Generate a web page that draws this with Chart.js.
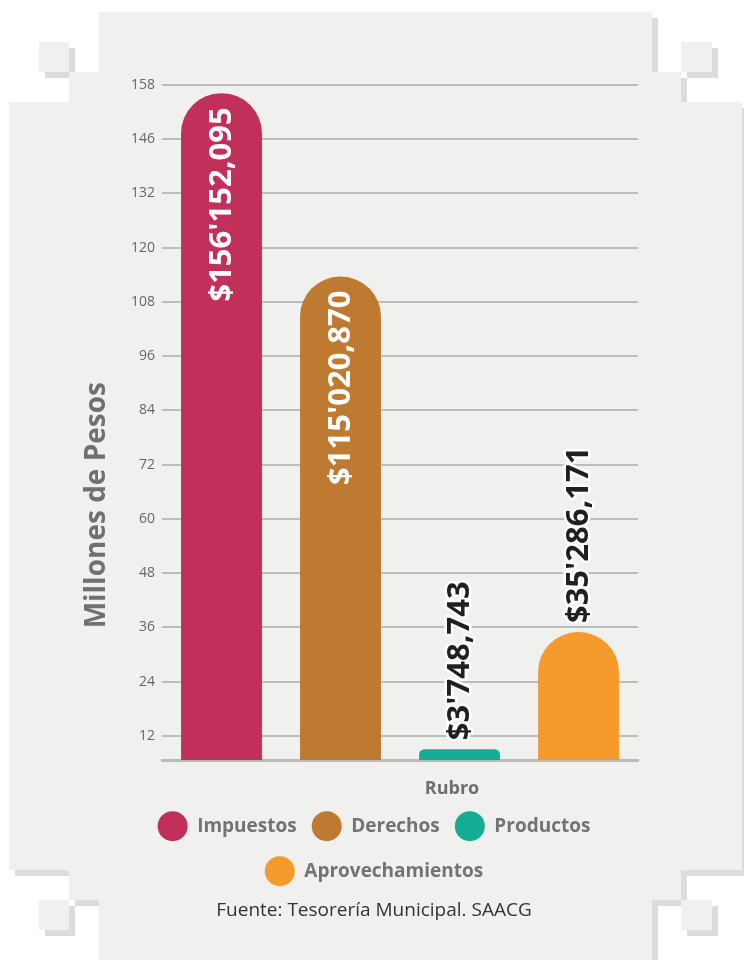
<!DOCTYPE html>
<html>
<head>
<meta charset="utf-8">
<script src="https://cdn.jsdelivr.net/npm/chart.js@4.4.1/dist/chart.umd.min.js"></script>
<style>
  html, body { margin: 0; padding: 0; background: #fff; }
  #wrap { position: relative; width: 744px; height: 960px; overflow: hidden; }
  .sh, .pn { position: absolute; }
  .sh { background: #dcdcdc; }
  .pn { background: #f0f0ee; }
  canvas { position: absolute; left: 0; top: 0; }
</style>
</head>
<body>
<div id="wrap">
  <canvas id="myChart" width="744" height="960"></canvas>
</div>
<script>
var categories = ['Impuestos', 'Derechos', 'Productos', 'Aprovechamientos'];
var amounts = [156152095, 115020870, 3748743, 35286171]; // pesos
var colors = ['#c1305a', '#bf7a31', '#14ad93', '#f59b2e'];
var tickLabels = ['12', '24', '36', '48', '60', '72', '84', '96', '108', '120', '132', '146', '158'];
var yMin = 6.55; // where the axis line sits, in millions

// the grey card behind the chart (blocks + their shadow)
var blocks = [[99, 12, 553, 960], [69, 72, 612, 828], [9, 102, 733, 768],
              [39, 42, 30, 30], [681, 42, 31, 30], [39, 900, 30, 30], [681, 900, 31, 30]];
var wrap = document.getElementById('wrap');
var cv = document.getElementById('myChart');
['sh', 'pn'].forEach(function (cls) {
    blocks.forEach(function (b) {
        var d = document.createElement('div');
        var off = cls === 'sh' ? 6 : 0;
        d.className = cls;
        d.style.left = (b[0] + off) + 'px';
        d.style.top = (b[1] + off) + 'px';
        d.style.width = b[2] + 'px';
        d.style.height = b[3] + 'px';
        wrap.insertBefore(d, cv);
    });
});

function money(n) {
    var s = String(n), parts = [];
    while (s.length > 3) { parts.unshift(s.slice(-3)); s = s.slice(0, -3); }
    parts.unshift(s);
    // millions with an apostrophe, thousands with a comma
    return '$' + parts[0] + "'" + parts.slice(1).join(',');
}

var tFirst = +tickLabels[0];
var tLast = +tickLabels[tickLabels.length - 1];
var tStep = (tLast - tFirst) / (tickLabels.length - 1);

var barLabels = {
    id: 'barLabels',
    afterDatasetsDraw: function (chart) {
        var ctx = chart.ctx;
        ctx.save();
        ctx.font = '700 31px "Open Sans"';
        ctx.textBaseline = 'middle';
        categories.forEach(function (c, i) {
            var bar = chart.getDatasetMeta(i).data[i];
            var txt = money(amounts[i]);
            var w = ctx.measureText(txt).width;
            var inside = (bar.base - bar.y) > w + 40;
            ctx.save();
            ctx.translate(bar.x, inside ? bar.y + 14 : bar.y - 9);
            ctx.rotate(-Math.PI / 2);
            if (inside) {
                ctx.textAlign = 'right';
                ctx.fillStyle = '#fff';
                ctx.fillText(txt, 0, 1);
            } else {
                ctx.textAlign = 'left';
                ctx.lineWidth = 5;
                ctx.lineJoin = 'round';
                ctx.strokeStyle = '#fff';
                ctx.strokeText(txt, 0, 1);
                ctx.fillStyle = '#231f20';
                ctx.fillText(txt, 0, 1);
            }
            ctx.restore();
        });
        ctx.restore();
    }
};

// axis titles sit off-centre in the original, so they are drawn here
var axisTitles = {
    id: 'axisTitles',
    afterDraw: function (chart) {
        var ctx = chart.ctx, a = chart.chartArea;
        ctx.save();
        ctx.textAlign = 'center';
        ctx.textBaseline = 'middle';
        ctx.fillStyle = '#6f6f6f';
        ctx.font = '700 18px "Open Sans"';
        ctx.fillText('Rubro', (a.left + a.right) / 2 + 52, a.bottom + 29);
        ctx.translate(97, a.bottom - 255);
        ctx.rotate(-Math.PI / 2);
        ctx.fillStyle = '#707070';
        ctx.font = '700 28px "Open Sans"';
        ctx.fillText('Millones de Pesos', 0, 0);
        ctx.restore();
    }
};

Chart.defaults.font.family = '"Open Sans", sans-serif';

var datasets = categories.map(function (c, i) {
    return {
        label: c,
        // one bar per dataset so the legend lists every rubro;
        // tiny values sit on the axis and get minBarLength
        data: categories.map(function (_, j) { return j === i ? Math.max(amounts[i] / 1e6, yMin) : null; }),
        backgroundColor: colors[i],
        borderRadius: { topLeft: 40, topRight: 40, bottomLeft: 0, bottomRight: 0 },
        borderSkipped: 'start',
        base: yMin,
        minBarLength: 11,
        categoryPercentage: 0.68,
        barPercentage: 1,
        skipNull: true
    };
});

var myChart = new Chart(cv.getContext('2d'), {
    type: 'bar',
    data: { labels: categories, datasets: datasets },
    plugins: [barLabels, axisTitles],
    options: {
        responsive: false,
        animation: false,
        layout: { padding: { top: 85, left: 110, right: 106, bottom: 38 } },
        scales: {
            x: {
                grid: { display: false },
                ticks: { display: false },
                border: { color: '#bbbbbb', width: 3 },
                afterFit: function (axis) { axis.height = 36; }
            },
            y: {
                min: yMin,
                max: tLast,
                afterBuildTicks: function (axis) {
                    axis.ticks = tickLabels.map(function (t, i) { return { value: tFirst + i * tStep }; });
                },
                afterFit: function (axis) { axis.width = 52; },
                grid: { color: '#bdbdbd', lineWidth: 2, drawTicks: false },
                border: { display: false },
                ticks: {
                    color: '#666', font: { size: 14 }, padding: 7,
                    callback: function (v, i) { return tickLabels[i]; }
                }
            }
        },
        plugins: {
            legend: {
                position: 'bottom',
                labels: {
                    boxWidth: 30, boxHeight: 30, useBorderRadius: true, borderRadius: 15,
                    color: '#737373', font: { size: 19, weight: '700' }, padding: 15
                }
            },
            subtitle: {
                display: true, position: 'bottom',
                text: 'Fuente: Tesorería Municipal. SAACG',
                color: '#333', font: { size: 19 }, padding: { top: 3, bottom: 0 }
            },
            tooltip: { enabled: false }
        }
    }
});
</script>
</body>
</html>
